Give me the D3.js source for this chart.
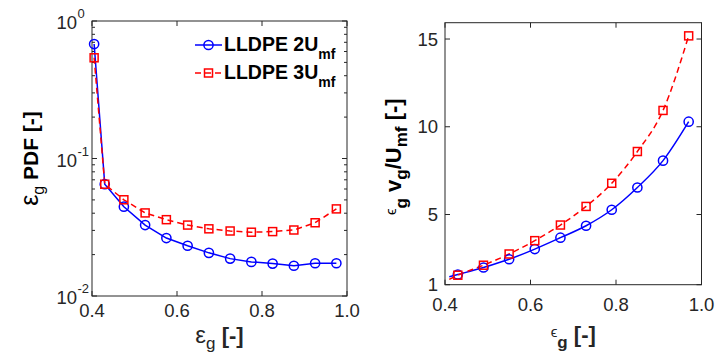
<!DOCTYPE html>
<html>
<head>
<meta charset="utf-8">
<script src="https://cdn.jsdelivr.net/npm/d3@7"></script>
<style>
  body { margin: 0; background: #fff; }
  svg { display: block; font-family: "Liberation Sans", Arial, sans-serif; }
</style>
</head>
<body>
<svg id="chart" width="718" height="359"></svg>
<script>
// ---- data ----
// left panel: PDF of gas fraction (log y)
const pdfX = [0.405, 0.43, 0.475, 0.525, 0.575, 0.625, 0.675, 0.725, 0.775, 0.825, 0.875, 0.925, 0.975];
const pdf2U = [0.68, 0.065, 0.0446, 0.0328, 0.0264, 0.0232, 0.0206, 0.0187, 0.0177, 0.0172, 0.0166, 0.0173, 0.0173];
const pdf3U = [0.54, 0.065, 0.0501, 0.0402, 0.0359, 0.0328, 0.0308, 0.0297, 0.0291, 0.0294, 0.0302, 0.0341, 0.0430];

// right panel: eps_g * v_g / U_mf
const velX = [0.43, 0.49, 0.55, 0.61, 0.67, 0.73, 0.79, 0.85, 0.91, 0.97];
const vel2U = [1.58, 1.98, 2.45, 3.03, 3.68, 4.36, 5.27, 6.54, 8.07, 10.29];
const vel3U = [1.54, 2.11, 2.75, 3.51, 4.40, 5.46, 6.78, 8.59, 10.93, 15.18];
// fitted curves start slightly left of the first marker
const fitStart2U = [0.41, 1.45];
const fitStart3U = [0.41, 1.30];

const xTicks = [0.4, 0.6, 0.8, 1.0];
const logTicks = [1e-2, 1e-1, 1];
const velTicks = [1, 5, 10, 15];
const seriesNames = ["LLDPE 2U", "LLDPE 3U"];

const BLUE = "#0000ff", RED = "#ff0000", AX = "#262626";
const TICK_FS = "18.5px";

const svg = d3.select("#chart");

function frame(g, x, y, w, h) {
  g.append("rect")
    .attr("x", x).attr("y", y).attr("width", w).attr("height", h)
    .attr("fill", "none").attr("stroke", AX).attr("stroke-width", 1);
}

function marker(g, type, cx, cy, color) {
  if (type === "circle") {
    g.append("circle").attr("cx", cx).attr("cy", cy).attr("r", 4.6)
      .attr("fill", "none").attr("stroke", color).attr("stroke-width", 1.5);
  } else {
    g.append("rect").attr("x", cx - 4).attr("y", cy - 4).attr("width", 8).attr("height", 8)
      .attr("fill", "none").attr("stroke", color).attr("stroke-width", 1.5);
  }
}

// ================= LEFT PANEL =================
{
  const L = 92, R = 347, T = 21, B = 296;
  const x = d3.scaleLinear().domain([0.4, 1.0]).range([L, R]);
  const y = d3.scaleLog().domain([1e-2, 1]).range([B, T]);
  const g = svg.append("g");

  // minor ticks (log)
  const minors = [];
  for (const dec of [1e-2, 1e-1]) for (let k = 2; k <= 9; k++) minors.push(dec * k);
  minors.forEach(v => {
    g.append("line").attr("x1", L).attr("x2", L + 3).attr("y1", y(v)).attr("y2", y(v)).attr("stroke", AX);
    g.append("line").attr("x1", R).attr("x2", R - 3).attr("y1", y(v)).attr("y2", y(v)).attr("stroke", AX);
  });
  logTicks.forEach(v => {
    g.append("line").attr("x1", L).attr("x2", L + 5).attr("y1", y(v)).attr("y2", y(v)).attr("stroke", AX);
    g.append("line").attr("x1", R).attr("x2", R - 5).attr("y1", y(v)).attr("y2", y(v)).attr("stroke", AX);
    g.append("text").attr("x", 77).attr("y", y(v) + 8)
      .attr("text-anchor", "end").attr("fill", AX).style("font-size", TICK_FS).text("10");
    g.append("text").attr("x", 77.5).attr("y", y(v) - 3)
      .attr("fill", AX).style("font-size", "13px").text(String(Math.round(Math.log10(v))));
  });
  xTicks.forEach(v => {
    g.append("line").attr("x1", x(v)).attr("x2", x(v)).attr("y1", B).attr("y2", B - 5).attr("stroke", AX);
    g.append("line").attr("x1", x(v)).attr("x2", x(v)).attr("y1", T).attr("y2", T + 5).attr("stroke", AX);
    g.append("text").attr("x", x(v)).attr("y", B + 21).attr("text-anchor", "middle")
      .attr("fill", AX).style("font-size", TICK_FS).text(v.toFixed(1));
  });
  frame(g, L, T, R - L, B - T);

  const line = d3.line().x(d => x(d[0])).y(d => y(d[1]));
  const d2 = pdfX.map((v, i) => [v, pdf2U[i]]);
  const d3s = pdfX.map((v, i) => [v, pdf3U[i]]);
  g.append("path").attr("d", line(d2)).attr("fill", "none").attr("stroke", BLUE).attr("stroke-width", 1.5);
  g.append("path").attr("d", line(d3s)).attr("fill", "none").attr("stroke", RED).attr("stroke-width", 1.5)
    .attr("stroke-dasharray", "6,4");
  d2.forEach(d => marker(g, "circle", x(d[0]), y(d[1]), BLUE));
  d3s.forEach(d => marker(g, "square", x(d[0]), y(d[1]), RED));

  // legend
  const leg = [[seriesNames[0], BLUE, "circle", null], [seriesNames[1], RED, "square", "6,4"]];
  leg.forEach((e, i) => {
    const ly = 45 + i * 28;
    g.append("line").attr("x1", 195).attr("x2", 222).attr("y1", ly).attr("y2", ly)
      .attr("stroke", e[1]).attr("stroke-width", 1.5).attr("stroke-dasharray", e[3]);
    marker(g, e[2], 208.5, ly, e[1]);
    const t = g.append("text").attr("x", 224).attr("y", ly + 6)
      .style("font-size", "19.5px").style("font-weight", "bold").attr("fill", "#000");
    t.append("tspan").text(e[0]);
    t.append("tspan").attr("dy", 8).style("font-size", "14px").text("mf");
  });

  // axis labels
  const xl = svg.append("text").attr("x", (L + R) / 2).attr("y", 343)
    .attr("text-anchor", "middle").attr("fill", AX).style("font-size", "24px");
  xl.append("tspan").text("ε");
  xl.append("tspan").attr("dy", 6).style("font-size", "17px").text("g");
  xl.append("tspan").attr("dy", -6).style("font-weight", "bold").style("font-size", "22px").text(" [-]");

  const yl = svg.append("text")
    .attr("transform", `translate(38,${(T + B) / 2}) rotate(-90)`)
    .attr("text-anchor", "middle").attr("fill", "#000").style("font-size", "21px").style("font-weight", "bold");
  yl.append("tspan").style("font-weight", "normal").style("font-size", "25px").text("ε");
  yl.append("tspan").attr("dy", 6).style("font-size", "16px").style("font-weight", "normal").text("g");
  yl.append("tspan").attr("dy", -6).text(" PDF [-]");
}

// ================= RIGHT PANEL =================
{
  const L = 445, R = 701.5, T = 22.7, B = 284.7;
  const x = d3.scaleLinear().domain([0.4, 1.0]).range([L, R]);
  const y = d3.scaleLinear().domain([1, 15.93]).range([B, T]);
  const g = svg.append("g");

  velTicks.forEach(v => {
    g.append("line").attr("x1", L).attr("x2", L + 5).attr("y1", y(v)).attr("y2", y(v)).attr("stroke", AX);
    g.append("line").attr("x1", R).attr("x2", R - 5).attr("y1", y(v)).attr("y2", y(v)).attr("stroke", AX);
    g.append("text").attr("x", L - 7).attr("y", y(v) + 6.5).attr("text-anchor", "end")
      .attr("fill", AX).style("font-size", TICK_FS).text(v);
  });
  xTicks.forEach(v => {
    g.append("line").attr("x1", x(v)).attr("x2", x(v)).attr("y1", B).attr("y2", B - 5).attr("stroke", AX);
    g.append("line").attr("x1", x(v)).attr("x2", x(v)).attr("y1", T).attr("y2", T + 5).attr("stroke", AX);
    g.append("text").attr("x", x(v)).attr("y", B + 26).attr("text-anchor", "middle")
      .attr("fill", AX).style("font-size", TICK_FS).text(v.toFixed(1));
  });
  frame(g, L, T, R - L, B - T);

  const curve = d3.line().x(d => x(d[0])).y(d => y(d[1])).curve(d3.curveMonotoneX);
  const d2 = velX.map((v, i) => [v, vel2U[i]]);
  const d3s = velX.map((v, i) => [v, vel3U[i]]);
  g.append("path").attr("d", curve([fitStart2U, ...d2])).attr("fill", "none")
    .attr("stroke", BLUE).attr("stroke-width", 1.5);
  g.append("path").attr("d", curve([fitStart3U, ...d3s])).attr("fill", "none")
    .attr("stroke", RED).attr("stroke-width", 1.5).attr("stroke-dasharray", "6,4");
  d2.forEach(d => marker(g, "circle", x(d[0]), y(d[1]), BLUE));
  d3s.forEach(d => marker(g, "square", x(d[0]), y(d[1]), RED));

  // axis labels
  const xl = svg.append("text").attr("x", (L + R) / 2).attr("y", 342)
    .attr("text-anchor", "middle").attr("fill", AX).style("font-size", "22px").style("font-weight", "bold");
  xl.append("tspan").attr("dy", -5).style("font-weight", "normal").style("font-size", "15px").text("ϵ");
  xl.append("tspan").attr("dy", 11).style("font-size", "17px").text("g");
  xl.append("tspan").attr("dy", -6).text(" [-]");

  const yl = svg.append("text")
    .attr("transform", `translate(401,${(T + B) / 2 + 3}) rotate(-90)`)
    .attr("text-anchor", "middle").attr("fill", "#000").style("font-size", "22px").style("font-weight", "bold");
  yl.append("tspan").attr("dy", -5).style("font-weight", "normal").style("font-size", "15px").text("ϵ");
  yl.append("tspan").attr("dy", 11).style("font-size", "17px").text("g");
  yl.append("tspan").attr("dy", -6).text(" v");
  yl.append("tspan").attr("dy", 6).style("font-size", "17px").text("g");
  yl.append("tspan").attr("dy", -6).text("/U");
  yl.append("tspan").attr("dy", 6).style("font-size", "17px").text("mf");
  yl.append("tspan").attr("dy", -6).text(" [-]");
}
</script>
</body>
</html>
